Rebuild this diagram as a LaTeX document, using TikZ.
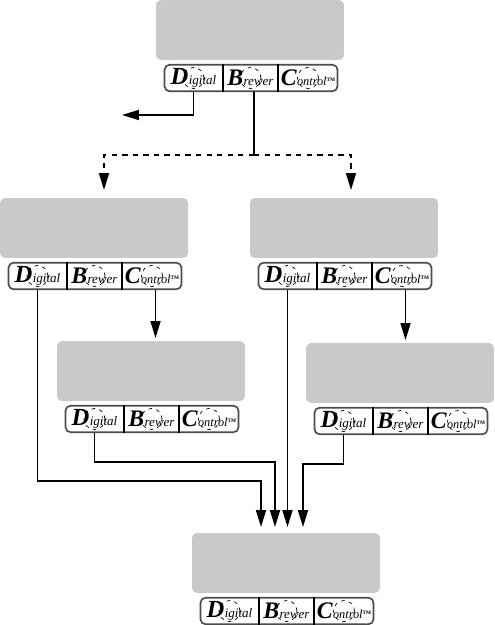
\documentclass[tikz,border=0pt]{standalone}
\usepackage{fontspec}
\setmainfont{Liberation Serif}
\usetikzlibrary{arrows.meta}

\newcommand{\wordD}{{\fontsize{14}{14}\selectfont\bfseries\itshape D}\kern0.2pt{\fontsize{7.4}{8}\selectfont\itshape igital}}
\newcommand{\wordB}{{\fontsize{13.5}{14}\selectfont\bfseries\itshape B}\kern0.2pt{\fontsize{7.4}{8}\selectfont\itshape rewer}}
\newcommand{\wordC}{{\fontsize{13.5}{14}\selectfont\bfseries\itshape C}\kern0.2pt{\fontsize{7}{8}\selectfont\itshape ontrol}\raisebox{2.5pt}{\fontsize{3}{4}\selectfont\bfseries TM}}

\tikzset{
    panel/.style={fill=panelgrey, rounded corners=0.1cm, minimum width=3.76cm, minimum height=1.2cm, inner sep=0pt},
    strip/.style={draw=black!70, line width=0.95pt, rounded corners=0.1cm, minimum width=3.46cm, minimum height=0.53cm, inner sep=0pt},
    cell/.style={minimum height=0.53cm, inner sep=0pt, text=black,
        path picture={\draw[black, line width=0.4pt, dash pattern=on 2pt off 2.5pt] (path picture bounding box.center) circle (0.21cm);}},
    cella/.style={cell, minimum width=1.16cm},
    cellb/.style={cell, minimum width=1.12cm},
    cellc/.style={cell, minimum width=1.18cm},
    rule/.style={black, line width=0.85pt},
    flow/.style={black, line width=1pt, -{Triangle[length=0.34cm, width=0.2cm]}},
    link/.style={black, line width=1pt},
}
\definecolor{panelgrey}{RGB}{200,201,203}

\begin{document}
\begin{tikzpicture}[x=0.02cm, y=-0.02cm]
    \useasboundingbox (0,0) rectangle (494,625);

    % top unit
    \begin{scope}[shift={(156,0)}]
        \node[panel] (top) at (94,30) {};
        \node[strip] (topbar) at (95,78) {};
        \node[cella] (topd) at (37.5,78) {\wordD};
        \node[cellb] (topb) at (94.5,78) {\wordB};
        \node[cellc] (topc) at (152,78) {\wordC};
        \draw[rule] (topd.north east) -- (topd.south east);
        \draw[rule] (topc.north west) -- (topc.south west);
    \end{scope}

    % left unit
    \begin{scope}[shift={(0,198)}]
        \node[panel] (lefta) at (94,30) {};
        \node[strip] (leftabar) at (95,78) {};
        \node[cella] (leftad) at (37.5,78) {\wordD};
        \node[cellb] (leftab) at (94.5,78) {\wordB};
        \node[cellc] (leftac) at (152,78) {\wordC};
        \draw[rule] (leftad.north east) -- (leftad.south east);
        \draw[rule] (leftac.north west) -- (leftac.south west);
    \end{scope}

    % right unit
    \begin{scope}[shift={(250,198)}]
        \node[panel] (righta) at (94,30) {};
        \node[strip] (rightabar) at (95,78) {};
        \node[cella] (rightad) at (37.5,78) {\wordD};
        \node[cellb] (rightab) at (94.5,78) {\wordB};
        \node[cellc] (rightac) at (152,78) {\wordC};
        \draw[rule] (rightad.north east) -- (rightad.south east);
        \draw[rule] (rightac.north west) -- (rightac.south west);
    \end{scope}

    % lower left unit
    \begin{scope}[shift={(57,341)}]
        \node[panel] (leftb) at (94,30) {};
        \node[strip] (leftbbar) at (95,78) {};
        \node[cella] (leftbd) at (37.5,78) {\wordD};
        \node[cellb] (leftbb) at (94.5,78) {\wordB};
        \node[cellc] (leftbc) at (152,78) {\wordC};
        \draw[rule] (leftbd.north east) -- (leftbd.south east);
        \draw[rule] (leftbc.north west) -- (leftbc.south west);
    \end{scope}

    % lower right unit
    \begin{scope}[shift={(306,343)}]
        \node[panel] (rightb) at (94,30) {};
        \node[strip] (rightbbar) at (95,78) {};
        \node[cella] (rightbd) at (37.5,78) {\wordD};
        \node[cellb] (rightbb) at (94.5,78) {\wordB};
        \node[cellc] (rightbc) at (152,78) {\wordC};
        \draw[rule] (rightbd.north east) -- (rightbd.south east);
        \draw[rule] (rightbc.north west) -- (rightbc.south west);
    \end{scope}

    % bottom unit
    \begin{scope}[shift={(192,533)}]
        \node[panel] (final) at (94,30) {};
        \node[strip] (finalbar) at (95,78) {};
        \node[cella] (finald) at (37.5,78) {\wordD};
        \node[cellb] (finalb) at (94.5,78) {\wordB};
        \node[cellc] (finalc) at (152,78) {\wordC};
        \draw[rule] (finald.north east) -- (finald.south east);
        \draw[rule] (finalc.north west) -- (finalc.south west);
    \end{scope}

    % free ends and elbows
    \coordinate (outa) at (122,115);
    \coordinate (split) at (254,155);
    \coordinate (ina) at (104,190);
    \coordinate (inb) at (351,190);
    \coordinate (inc) at (155,338);
    \coordinate (ind) at (405,340);
    \coordinate (ine) at (261,527);
    \coordinate (inf) at (275,527);
    \coordinate (ing) at (288,527);
    \coordinate (inh) at (303,527);
    \coordinate (elbe) at (261,481);
    \coordinate (elbf) at (275,462);
    \coordinate (elbh) at (303,464);

    % connectors
    \draw[flow] (topd.south) |- (outa);
    \draw[link] ([xshift=2pt]topb.south) -- (split);
    \draw[flow, dashed] (split) -| (ina);
    \draw[flow, dashed] (split) -| (inb);
    \draw[flow] ([xshift=2pt]leftac.south) -- ([xshift=2pt]leftac.south |- inc);
    \draw[flow] ([xshift=2pt]rightac.south) -- ([xshift=2pt]rightac.south |- ind);
    \draw[flow] (leftad.south) |- (elbe) -- (ine);
    \draw[flow] (leftbd.south) |- (elbf) -- (inf);
    \draw[flow] (rightad.south) -- (rightad.south |- ing);
    \draw[flow] (rightbd.south) |- (elbh) -- (inh);
\end{tikzpicture}
\end{document}
